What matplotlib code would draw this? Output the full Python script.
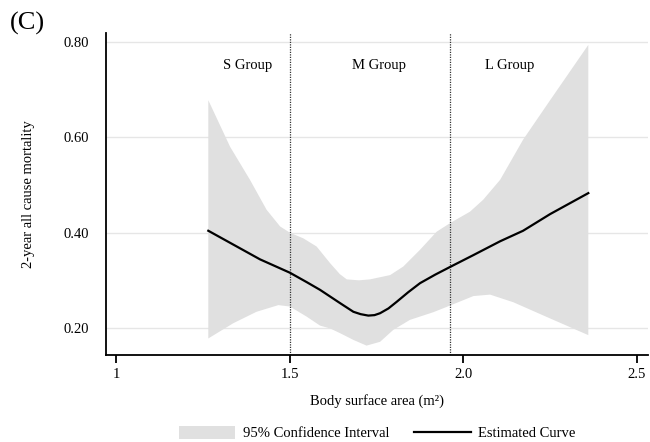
import matplotlib
matplotlib.use("Agg")
import matplotlib.pyplot as plt
import numpy as np
from matplotlib.patches import Patch
from matplotlib.lines import Line2D

plt.rcParams['font.family'] = ['Liberation Serif', 'DejaVu Serif']

# Estimated curve
curve_x = [1.266, 1.415, 1.501, 1.55, 1.588, 1.617, 1.646, 1.684, 1.705, 1.727, 1.745, 1.761, 1.785, 1.809, 1.842, 1.876, 1.920, 1.9625, 2.030, 2.107, 2.173, 2.251, 2.361]
curve_y = [0.404, 0.344, 0.316, 0.296, 0.280, 0.266, 0.252, 0.234, 0.229, 0.226, 0.227, 0.231, 0.241, 0.255, 0.275, 0.294, 0.312, 0.328, 0.353, 0.382, 0.404, 0.439, 0.483]

# 95% CI upper bound
upper_x = [1.266, 1.329, 1.386, 1.434, 1.473, 1.501, 1.540, 1.578, 1.617, 1.645, 1.665, 1.700, 1.732, 1.790, 1.828, 1.876, 1.924, 1.9625, 2.020, 2.058, 2.107, 2.173, 2.251, 2.361]
upper_y = [0.678, 0.580, 0.511, 0.448, 0.413, 0.400, 0.388, 0.371, 0.336, 0.313, 0.302, 0.300, 0.302, 0.311, 0.329, 0.364, 0.402, 0.420, 0.444, 0.469, 0.511, 0.595, 0.678, 0.794]

# 95% CI lower bound
lower_x = [1.266, 1.338, 1.405, 1.468, 1.501, 1.549, 1.588, 1.617, 1.646, 1.684, 1.722, 1.761, 1.799, 1.847, 1.914, 1.9625, 2.030, 2.078, 2.145, 2.251, 2.361]
lower_y = [0.178, 0.210, 0.234, 0.248, 0.245, 0.224, 0.205, 0.199, 0.189, 0.175, 0.163, 0.171, 0.196, 0.217, 0.233, 0.247, 0.267, 0.270, 0.254, 0.220, 0.185]

cutoffs = [1.5, 1.9625]
group_labels = ["S Group", "M Group", "L Group"]
group_label_x = [1.378, 1.758, 2.135]
group_label_y = 0.750

xticks = [1, 1.5, 2.0, 2.5]
xtick_labels = ["1", "1.5", "2.0", "2.5"]
yticks = [0.20, 0.40, 0.60, 0.80]
ytick_labels = ["0.20", "0.40", "0.60", "0.80"]

band_color = '#e0e0e0'
fs = 10.5

fig = plt.figure(figsize=(6.5, 4.42), dpi=100)
ax = fig.add_axes([106/650, 1 - 355/442, (648-106)/650, (355-33)/442])

ax.fill(np.concatenate([upper_x, lower_x[::-1]]),
        np.concatenate([upper_y, lower_y[::-1]]),
        color=band_color, lw=0, zorder=1)
ax.plot(curve_x, curve_y, color='black', lw=1.6, zorder=3,
        solid_joinstyle='round')

for c in cutoffs:
    ax.axvline(c, color='#333333', lw=0.9, linestyle=(0, (1, 1)), zorder=2)

for lab, gx in zip(group_labels, group_label_x):
    ax.text(gx, group_label_y, lab, ha='center', va='center', fontsize=fs)

ax.set_xlim(0.9712, 2.533)
ax.set_ylim(0.1433, 0.819)
ax.set_xticks(xticks)
ax.set_xticklabels(xtick_labels, fontsize=fs)
ax.set_yticks(yticks)
ax.set_yticklabels(ytick_labels, fontsize=fs)
ax.yaxis.grid(True, color='#e6e6e6', lw=1.0, zorder=0)
ax.set_axisbelow(True)
ax.tick_params(axis='y', length=0, pad=12)
ax.tick_params(axis='x', direction='out', length=6, width=1.3, pad=3)
for s in ['top', 'right']:
    ax.spines[s].set_visible(False)
for s in ['left', 'bottom']:
    ax.spines[s].set_linewidth(1.3)

ax.set_xlabel("Body surface area (m²)", fontsize=fs, labelpad=10)
ax.set_ylabel("2-year all cause mortality", fontsize=fs, labelpad=21)

fig.text(10/650, 1 - 23/442, "(C)", fontsize=19, ha='left', va='center')

handles = [Patch(facecolor=band_color, edgecolor='none'),
           Line2D([0], [0], color='black', lw=1.6)]
fig.legend(handles, ["95% Confidence Interval", "Estimated Curve"],
           loc='center', bbox_to_anchor=(0.58, 0.02), ncol=2, frameon=False,
           fontsize=fs, handlelength=3.9, handleheight=1.0,
           handletextpad=0.5, columnspacing=1.7)

fig.savefig("out.png", dpi=100)
